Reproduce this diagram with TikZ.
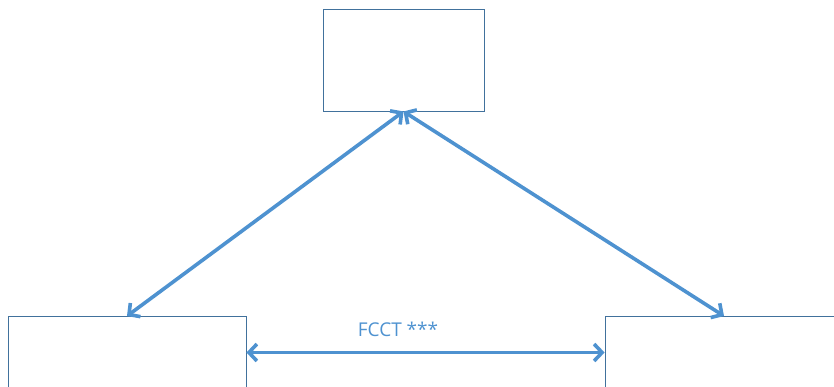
\documentclass[tikz,border=0pt]{standalone}
\usepackage{fontspec}
\setmainfont{Open Sans}
\usetikzlibrary{arrows.meta}

\definecolor{boxline}{RGB}{65,113,156}
\definecolor{arrowblue}{RGB}{78,146,208}

\tikzset{
    box/.style={draw=boxline, line width=0.9pt, minimum width=#1, minimum height=72pt, inner sep=0pt},
    link/.style={draw=arrowblue, line width=3.6pt, {Straight Barb[length=8pt,width=17pt]}-{Straight Barb[length=8pt,width=17pt]}}
}

\begin{document}
\begin{tikzpicture}[x=1pt, y=-1pt]
        \useasboundingbox (0,0) rectangle (834,387);
        \clip (0,0) rectangle (834,387);

        \node[box=161pt, minimum height=102pt] (top) at (403.5,60) {};
        \node[box=238pt] (left) at (127,352.5) {};
        \node[box=238pt] (right) at (724,352.5) {};

        \draw[link] (top.south) -- (left.north);
        \draw[link] (top.south) -- (right.north);
        \draw[link] (left.east) -- (right.west);

        \node[text=arrowblue, font=\fontsize{19}{22}\selectfont] (label) at (398,329) {FCCT ***};
    \end{tikzpicture}
\end{document}
